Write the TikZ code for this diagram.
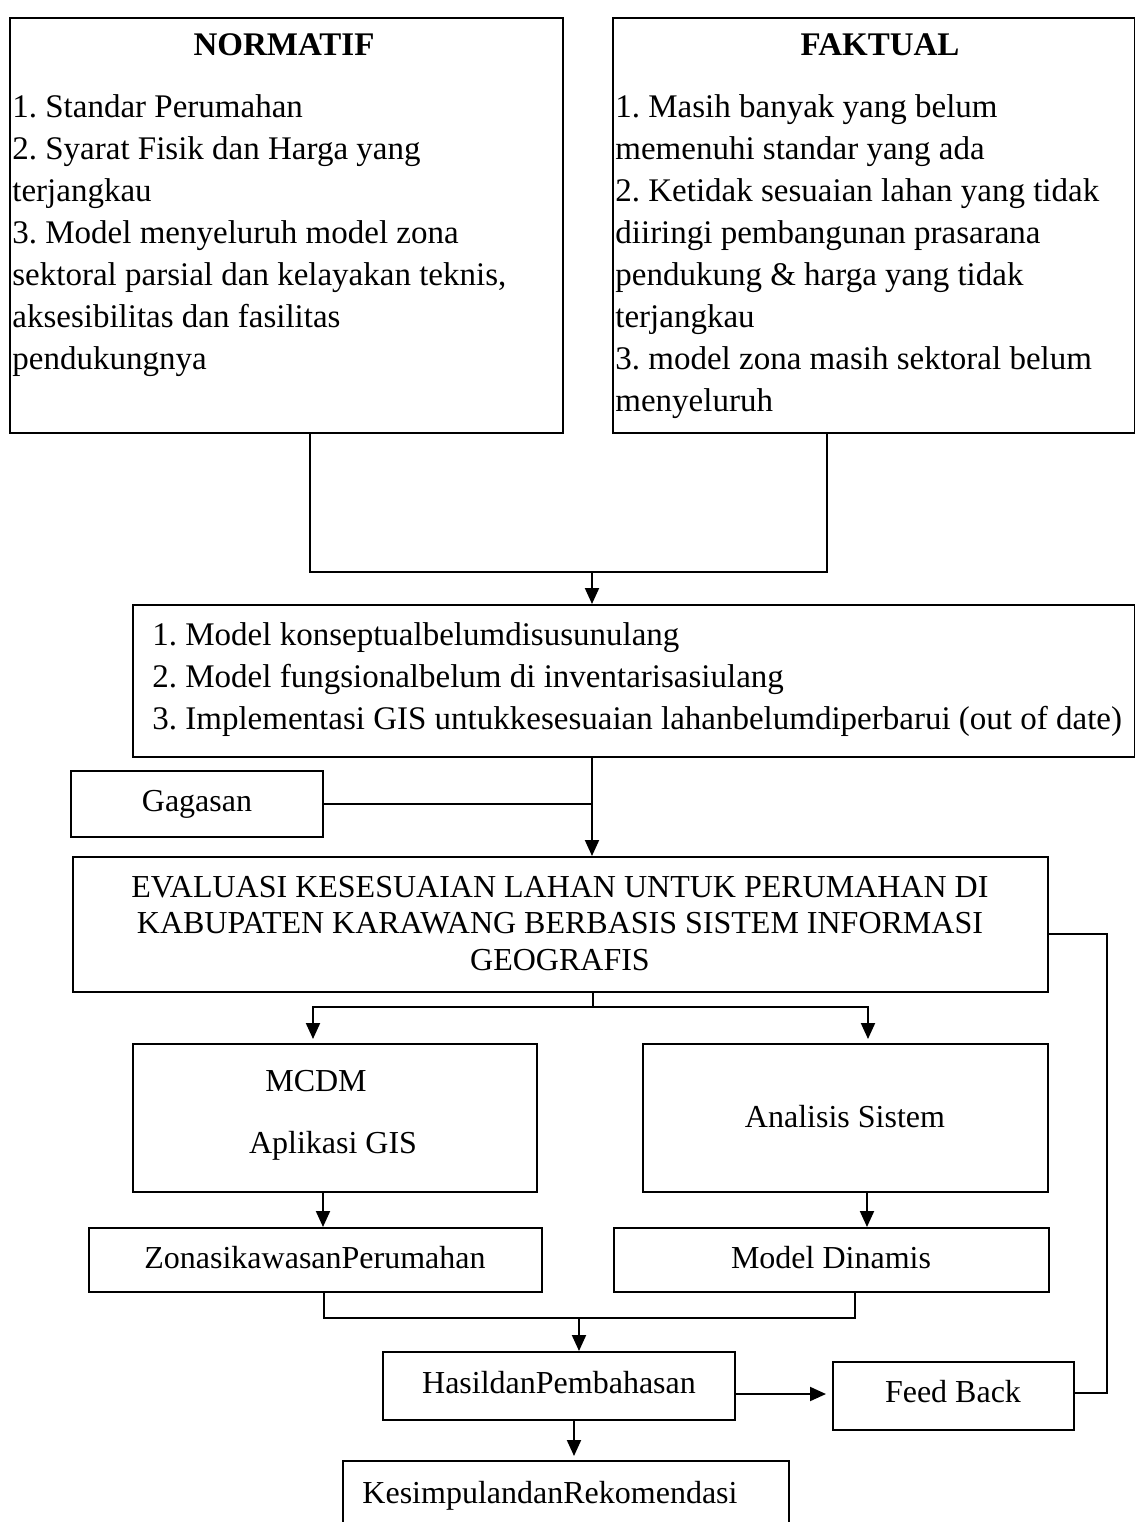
\documentclass[tikz,border=0pt]{standalone}
\usepackage{fontspec}
\setmainfont{Liberation Serif}
\usetikzlibrary{arrows.meta,fit}
\frenchspacing
\begin{document}
\begin{tikzpicture}[x=0.5pt,y=-0.5pt,
  box/.style={draw,line width=1pt,inner sep=0pt},
  txt/.style={inner sep=0pt,font=\fontsize{16}{19}\selectfont},
  bigtxt/.style={inner sep=0pt,font=\fontsize{16.5}{19}\selectfont},
  ttl/.style={inner sep=0pt,font=\bfseries\fontsize{16.5}{19}\selectfont},
  ln/.style={line width=1pt},
  arr/.style={line width=1pt,-{Triangle[width=7pt,length=8pt]}}]
\useasboundingbox (0,0) rectangle (1135,1522);
\clip (0,0) rectangle (1135,1522);
\fill[white] (0,0) rectangle (1135,1522);

% boxes
\node[box,fit={(10,18)(563,433)}] (norm) {};
\node[box,fit={(613,18)(1135,433)}] (fakt) {};
\node[box,fit={(133,605)(1135,757)}] (model) {};
\node[box,fit={(71,771)(323,837)}] (gag) {};
\node[box,fit={(73,857)(1048,992)}] (eval) {};
\node[box,fit={(133,1044)(537,1192)}] (mcdm) {};
\node[box,fit={(643,1044)(1048,1192)}] (anal) {};
\node[box,fit={(89,1228)(542,1292)}] (zon) {};
\node[box,fit={(614,1228)(1049,1292)}] (dyn) {};
\node[box,fit={(383,1352)(735,1420)}] (hasil) {};
\node[box,fit={(833,1362)(1074,1430)}] (feed) {};
\node[box,fit={(343,1461)(789,1545)}] (kes) {};

% texts
\node[ttl,anchor=base] (tnorm) at (284,55) {NORMATIF};
\node[ttl,anchor=base] (tfakt) at (880,55) {FAKTUAL};

\node[bigtxt,anchor=base west] (n1) at (12,117) {1. Standar Perumahan};
\node[bigtxt,anchor=base west] (n2) at (12,159) {2. Syarat Fisik dan Harga yang};
\node[bigtxt,anchor=base west] (n3) at (12,201) {terjangkau};
\node[bigtxt,anchor=base west] (n4) at (12,243) {3. Model menyeluruh model zona};
\node[bigtxt,anchor=base west] (n5) at (12,285) {sektoral parsial dan kelayakan teknis,};
\node[bigtxt,anchor=base west] (n6) at (12,327) {aksesibilitas dan fasilitas};
\node[bigtxt,anchor=base west] (n7) at (12,369) {pendukungnya};

\node[bigtxt,anchor=base west] (f1) at (615,117) {1. Masih banyak yang belum};
\node[bigtxt,anchor=base west] (f2) at (615,159) {memenuhi standar yang ada};
\node[bigtxt,anchor=base west] (f3) at (615,201) {2. Ketidak sesuaian lahan yang tidak};
\node[bigtxt,anchor=base west] (f4) at (615,243) {diiringi pembangunan prasarana};
\node[bigtxt,anchor=base west] (f5) at (615,285) {pendukung \& harga yang tidak};
\node[bigtxt,anchor=base west] (f6) at (615,327) {terjangkau};
\node[bigtxt,anchor=base west] (f7) at (615,369) {3. model zona masih sektoral belum};
\node[bigtxt,anchor=base west] (f8) at (615,411) {menyeluruh};

\node[bigtxt,anchor=base west] (m1) at (152,645) {1. Model konseptualbelumdisusunulang};
\node[bigtxt,anchor=base west] (m2) at (152,687) {2. Model fungsionalbelum di inventarisasiulang};
\node[bigtxt,anchor=base west] (m3) at (152,729) {3. Implementasi GIS untukkesesuaian lahanbelumdiperbarui (out of date)};

\node[txt,anchor=base] (tgag) at (197,811) {Gagasan};

\node[txt,anchor=base] (e1) at (560,897) {EVALUASI KESESUAIAN LAHAN UNTUK PERUMAHAN DI};
\node[txt,anchor=base] (e2) at (560,933) {KABUPATEN KARAWANG BERBASIS SISTEM INFORMASI};
\node[txt,anchor=base] (e3) at (560,970) {GEOGRAFIS};

\node[txt,anchor=base] (tmcdm) at (316,1091) {MCDM};
\node[txt,anchor=base] (tapl) at (333,1153) {Aplikasi GIS};
\node[txt,anchor=base] (tanal) at (845,1127) {Analisis Sistem};
\node[txt,anchor=base] (tzon) at (315,1268) {ZonasikawasanPerumahan};
\node[txt,anchor=base] (tdyn) at (831,1268) {Model Dinamis};
\node[txt,anchor=base] (thasil) at (559,1393) {HasildanPembahasan};
\node[txt,anchor=base] (tfeed) at (953,1402) {Feed Back};
\node[txt,anchor=base] (tkes) at (550,1503) {KesimpulandanRekomendasi};

% connectors
\coordinate (b1) at (310,572);
\coordinate (b2) at (827,572);
\coordinate (bm) at (592,572);
\draw[ln] (norm.south -| b1) -- (b1) -- (b2) -- (fakt.south -| b2);
\draw[arr] (bm) -- (model.north -| bm);

\coordinate (gj) at (592,804);
\draw[ln] (gag.east) -- (gj);
\draw[arr] (model.south -| gj) -- (eval.north -| gj);

\coordinate (s0) at (593,1007);
\coordinate (sl) at (313,1007);
\coordinate (sr) at (868,1007);
\draw[ln] (eval.south -| s0) -- (s0);
\draw[arr,shorten >=2pt] (s0) -- (sl) -- (mcdm.north -| sl);
\draw[arr,shorten >=2pt] (s0) -- (sr) -- (anal.north -| sr);

\coordinate (c1) at (323,1200);
\coordinate (c2) at (867,1200);
\draw[arr] (mcdm.south -| c1) -- (zon.north -| c1);
\draw[arr] (anal.south -| c2) -- (dyn.north -| c2);

\coordinate (z1) at (324,1318);
\coordinate (z2) at (855,1318);
\coordinate (zm) at (579,1318);
\draw[ln] (zon.south -| z1) -- (z1) -- (z2) -- (dyn.south -| z2);
\draw[arr] (zm) -- (hasil.north -| zm);

\coordinate (h1) at (574,1440);
\draw[arr,shorten >=2pt] (hasil.south -| h1) -- (kes.north -| h1);

\coordinate (fa) at (735,1394);
\draw[arr,shorten >=3pt] (hasil.east |- fa) -- (feed.west |- fa);

\coordinate (fb1) at (1107,1393);
\coordinate (fb2) at (1107,934);
\draw[ln] (feed.east |- fb1) -- (fb1) -- (fb2) -- (eval.east |- fb2);
\end{tikzpicture}
\end{document}
